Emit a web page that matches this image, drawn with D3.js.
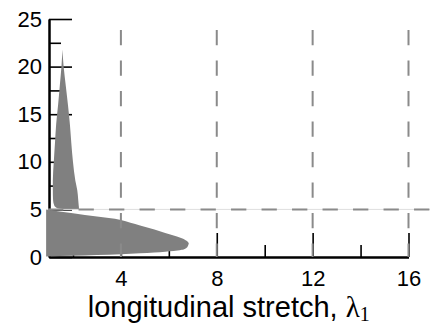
<!DOCTYPE html>
<html>
<head>
<meta charset="utf-8">
<script src="https://cdn.jsdelivr.net/npm/d3@7"></script>
<style>
  body { margin: 0; background: #fff; }
  svg { display: block; font-family: "Liberation Sans", Arial, sans-serif; }
</style>
</head>
<body>
<div id="chart"></div>
<script>
// tick values
const xMajor = [4, 8, 12, 16],
    xMinor = [2, 6, 10, 14],
    yMajor = [0, 5, 10, 15, 20, 25],
    yMinor = [2.5, 7.5, 12.5, 17.5, 22.5];

// upper distribution (y > 5): left and right edge per level
const upperY = [5.0, 5.12, 5.4, 6, 7, 8, 10, 12, 14, 16, 18, 20, 21.8];
const upperLeft = [1.7, 1.35, 1.22, 1.17, 1.16, 1.16, 1.2, 1.25, 1.3, 1.38, 1.45, 1.52, 1.56];
const upperRight = [2.25, 2.25, 2.24, 2.22, 2.18, 2.1, 2.0, 1.93, 1.87, 1.79, 1.7, 1.61, 1.56];

// lower distribution (y < 5): top and bottom edge per stretch
const lowerX = [0.88, 2, 3, 4, 4.8, 5.4, 5.85, 6.2, 6.54, 6.7, 6.78, 6.83];
const lowerTop = [5.0, 4.6, 4.25, 3.88, 3.3, 2.88, 2.52, 2.25, 1.96, 1.76, 1.62, 1.47];
const lowerBottom = [0.05, 0.12, 0.2, 0.28, 0.4, 0.48, 0.56, 0.63, 0.75, 0.9, 1.08, 1.4];

// threshold lines
const xGuides = [4, 8, 12, 16];
const yGuide = 5;

const W = 430, H = 336;

const svg = d3.select("#chart")
    .append("svg")
    .attr("width", W)
    .attr("height", H);

const x = d3.scaleLinear().domain([1, 16]).range([49, 408.5]);
const y = d3.scaleLinear().domain([0, 25]).range([257, 19]);

// axes (ticks point inward)
const gy = svg.append("g").attr("transform", `translate(${x(1)},0)`);
gy.call(d3.axisLeft(y).tickValues(yMajor).tickSize(-23).tickSizeOuter(0).tickPadding(7));
const gyMinor = svg.append("g").attr("transform", `translate(${x(1)},0)`);
gyMinor.call(d3.axisLeft(y).tickValues(yMinor).tickSize(-12).tickSizeOuter(0).tickFormat(""));

const gx = svg.append("g").attr("transform", `translate(0,${y(0)})`);
gx.call(d3.axisBottom(x).tickValues(xMajor).tickSize(-24).tickSizeOuter(0).tickPadding(13));
const gxMinor = svg.append("g").attr("transform", `translate(0,${y(0)})`);
gxMinor.call(d3.axisBottom(x).tickValues(xMinor).tickSize(-12).tickSizeOuter(0).tickFormat(""));

svg.selectAll(".domain").attr("stroke", "#000").attr("stroke-width", 2);
svg.selectAll(".tick line").attr("stroke", "#000").attr("stroke-width", 1.6);
svg.selectAll(".tick text")
    .attr("font-size", 22)
    .attr("font-family", "Liberation Sans, Arial, sans-serif")
    .attr("fill", "#000");

// distributions
const upper = upperY.map((v, i) => ({ y: v, l: upperLeft[i], r: upperRight[i] }));
const lower = lowerX.map((v, i) => ({ x: v, t: lowerTop[i], b: lowerBottom[i] }));

svg.append("path")
    .datum(upper)
    .attr("fill", "#808080")
    .attr("d", d3.area()
        .curve(d3.curveMonotoneY)
        .y(d => y(d.y))
        .x0(d => x(d.l))
        .x1(d => x(d.r)));

svg.append("path")
    .datum(lower)
    .attr("fill", "#808080")
    .attr("d", d3.area()
        .curve(d3.curveMonotoneX)
        .x(d => x(d.x))
        .y0(d => y(d.b))
        .y1(d => y(d.t)));

// dashed guides
svg.append("line")
    .attr("x1", x(0.96)).attr("x2", W)
    .attr("y1", y(yGuide)).attr("y2", y(yGuide))
    .attr("stroke", "#dedede")
    .attr("stroke-width", 1);

svg.append("line")
    .attr("x1", x(0.96)).attr("x2", W)
    .attr("y1", y(yGuide)).attr("y2", y(yGuide))
    .attr("stroke", "#8a8a8a")
    .attr("stroke-width", 2)
    .attr("stroke-dasharray", "15.3 15.2");

svg.selectAll("line.vguide")
    .data(xGuides)
    .enter()
    .append("line")
    .attr("class", "vguide")
    .attr("x1", d => x(d)).attr("x2", d => x(d))
    .attr("y1", y(23.85)).attr("y2", y(0))
    .attr("stroke", "#8a8a8a")
    .attr("stroke-width", 2)
    .attr("stroke-dasharray", "15.3 15.2");

// x label
const title = svg.append("text")
    .attr("x", (x(1) + x(16)) / 2)
    .attr("y", 317)
    .attr("text-anchor", "middle")
    .attr("font-size", 29)
    .attr("fill", "#000");
title.append("tspan").text("longitudinal stretch, ");
title.append("tspan").attr("font-family", "Liberation Serif, Times New Roman, serif").text("λ");
title.append("tspan")
    .attr("font-family", "Liberation Serif, Times New Roman, serif")
    .attr("font-size", 20)
    .attr("dy", 4)
    .text("1");
</script>
</body>
</html>
